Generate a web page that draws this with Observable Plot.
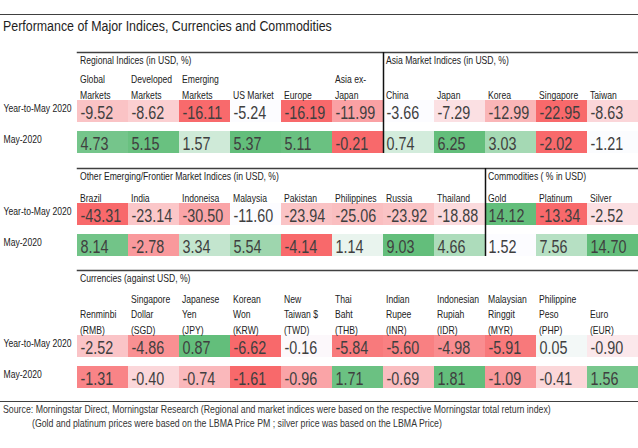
<!DOCTYPE html>
<html>
<head>
<meta charset="utf-8">
<script src="https://cdn.jsdelivr.net/npm/d3@7"></script>
<script src="https://cdn.jsdelivr.net/npm/@observablehq/plot@0.6"></script>
<style>
  html, body { margin: 0; padding: 0; background: #fff; }
  #chart { position: relative; width: 638px; height: 448px; overflow: hidden;
    font-family: "Liberation Sans", Arial, sans-serif; color: #222; }
  .rule { position: absolute; left: 0; width: 638px; height: 0; border-top: 1.5px solid #404040; }
  .narrow { position: absolute; white-space: nowrap; transform-origin: 0 50%; }
  #title { left: 3px; top: 17px; font-size: 15.5px; line-height: 18px; color: #1e1e1e; transform: scaleX(0.80); }
  .src { font-size: 10.5px; line-height: 12px; color: #333; transform: scaleX(0.835); }
  svg { position: absolute; left: 0; }
</style>
</head>
<body>
<div id="chart">
  <div class="rule" style="top:14px"></div>
  <div id="title" class="narrow">Performance of Major Indices, Currencies and Commodities</div>
  <div class="rule" style="top:401px"></div>
  <div class="src narrow" style="left:3px; top:403px">Source: Morningstar Direct, Morningstar Research (Regional and market indices were based on the respective Morningstar total return index)</div>
  <div class="src narrow" style="left:32px; top:417px">(Gold and platinum prices were based on the LBMA Price PM ; silver price was based on the LBMA Price)</div>
</div>
<script>
// ---------- data ----------
const rowLabels = ["Year-to-May 2020", "May-2020"];

const regionalTitle = "Regional Indices (in USD, %)";
const regionalCols = ["Global\nMarkets", "Developed\nMarkets", "Emerging\nMarkets", "US Market", "Europe", "Asia ex-\nJapan"];
const regionalYtd = [-9.52, -8.62, -16.11, -5.24, -16.19, -11.99];
const regionalMay = [4.73, 5.15, 1.57, 5.37, 5.11, -0.21];

const asiaTitle = "Asia Market Indices (in USD, %)";
const asiaCols = ["China", "Japan", "Korea", "Singapore", "Taiwan"];
const asiaYtd = [-3.66, -7.29, -12.99, -22.95, -8.63];
const asiaMay = [0.74, 6.25, 3.03, -2.02, -1.21];

const otherTitle = "Other Emerging/Frontier Market Indices (in USD, %)";
const otherCols = ["Brazil", "India", "Indoneisa", "Malaysia", "Pakistan", "Philippines", "Russia", "Thailand"];
const otherYtd = [-43.31, -23.14, -30.50, -11.60, -23.94, -25.06, -23.92, -18.88];
const otherMay = [8.14, -2.78, 3.34, 5.54, -4.14, 1.14, 9.03, 4.66];

const commodityTitle = "Commodities ( % in USD)";
const commodityCols = ["Gold", "Platinum", "Silver"];
const commodityYtd = [14.12, -13.34, -2.52];
const commodityMay = [1.52, 7.56, 14.70];

const currencyTitle = "Currencies (against USD, %)";
const currencyCols = ["Renminbi\n(RMB)", "Singapore\nDollar\n(SGD)", "Japanese\nYen\n(JPY)", "Korean\nWon\n(KRW)", "New\nTaiwan $\n(TWD)", "Thai\nBaht\n(THB)", "Indian\nRupee\n(INR)", "Indonesian\nRupiah\n(IDR)", "Malaysian\nRinggit\n(MYR)", "Philippine\nPeso\n(PHP)", "Euro\n(EUR)"];
const currencyYtd = [-2.52, -4.86, 0.87, -6.62, -0.16, -5.84, -5.60, -4.98, -5.91, 0.05, -0.90];
const currencyMay = [-1.31, -0.40, -0.74, -1.61, -0.96, 1.71, -0.69, 1.81, -1.09, -0.41, 1.56];

// colour-scale midpoint for the Asia May row (other rows: 0, clamped to the row range)
const asiaMayMidpoint = -1.25;

// ---------- helpers ----------
const RED = "#F8696B", WHITE = "#FCFCFF", GREEN = "#63BE7B";
const FONT = '"Liberation Sans", Arial, sans-serif';
const NARROW = 0.82;
const NCOLS = 11;

function normalizer(values, mid) {
  const lo = d3.min(values), hi = d3.max(values);
  const m = mid ?? Math.min(Math.max(0, lo), hi);
  return v => v < m ? -(m - v) / (m - lo) : (hi === m ? 0 : (v - m) / (hi - m));
}

function groupCells(offset, ytd, may, mids = [null, null]) {
  const out = [];
  [ytd, may].forEach((vals, r) => {
    const f = normalizer(vals, mids[r]);
    vals.forEach((v, i) => out.push({col: offset + i, row: rowLabels[r], value: v, t: f(v)}));
  });
  return out;
}

function section({top, height, marginTop, marginBottom, yRange, groups, divider}) {
  const cells = groups.flatMap(g => groupCells(g.offset, g.ytd, g.may, g.mids));
  const labels = groups.flatMap(g => g.cols.map((c, i) => ({col: g.offset + i, label: c})));
  const heads = groups.map(g => ({col: g.offset, label: g.title}));
  const marks = [
    Plot.frame({anchor: "top", stroke: "#404040", strokeWidth: 1.5}),
    Plot.barX(cells, {x1: "col", x2: d => d.col + 1, y: "row", fill: "t"}),
    Plot.text(cells, {x: "col", y: "row", text: d => d.value.toFixed(2), textAnchor: "start", dx: 3, dy: 2, fontSize: 17.5, fill: "#3f3f3f"}),
    Plot.text(labels, {x: "col", y: () => rowLabels[0], text: "label", textAnchor: "start", lineAnchor: "bottom", dx: 2.5, dy: -13, fontSize: 10.5, lineHeight: 1.45, fill: "#222"}),
    Plot.text(heads, {x: "col", frameAnchor: "top", text: "label", textAnchor: "start", lineAnchor: "middle", dx: 2.5, dy: 8, fontSize: 10.5, fill: "#222"}),
    Plot.text(rowLabels, {y: d => d, text: d => d, frameAnchor: "left", textAnchor: "start", dx: -74, dy: -3, fontSize: 10.5, fill: "#222"})
  ];
  if (divider != null) marks.push(Plot.ruleX([divider], {stroke: "#111", strokeWidth: 1.5}));
  const svg = Plot.plot({
    width: 638, height, marginLeft: 77, marginRight: 0, marginTop, marginBottom,
    x: {type: "linear", domain: [0, NCOLS], axis: null},
    y: {type: "band", domain: rowLabels, range: yRange, paddingInner: 9 / 31, paddingOuter: 0, axis: null},
    color: {type: "linear", domain: [-1, 0, 1], range: [RED, WHITE, GREEN], interpolate: "rgb"},
    style: {fontFamily: FONT, background: "transparent", overflow: "visible"},
    marks
  });
  // condensed lettering (narrow typeface look)
  svg.querySelectorAll("text").forEach(t => {
    t.setAttribute("transform", (t.getAttribute("transform") || "") + ` scale(${NARROW},1)`);
  });
  svg.style.top = top + "px";
  document.getElementById("chart").appendChild(svg);
}

section({
  top: 44, height: 116, marginTop: 8, marginBottom: 7, yRange: [56, 109],
  divider: regionalCols.length,
  groups: [
    {offset: 0, title: regionalTitle, cols: regionalCols, ytd: regionalYtd, may: regionalMay},
    {offset: regionalCols.length, title: asiaTitle, cols: asiaCols, ytd: asiaYtd, may: asiaMay, mids: [null, asiaMayMidpoint]}
  ]
});
section({
  top: 160, height: 104, marginTop: 8, marginBottom: 8, yRange: [43, 96],
  divider: otherCols.length,
  groups: [
    {offset: 0, title: otherTitle, cols: otherCols, ytd: otherYtd, may: otherMay},
    {offset: otherCols.length, title: commodityTitle, cols: commodityCols, ytd: commodityYtd, may: commodityMay}
  ]
});
section({
  top: 262, height: 132, marginTop: 8, marginBottom: 6, yRange: [73, 126],
  groups: [
    {offset: 0, title: currencyTitle, cols: currencyCols, ytd: currencyYtd, may: currencyMay}
  ]
});
</script>
</body>
</html>
